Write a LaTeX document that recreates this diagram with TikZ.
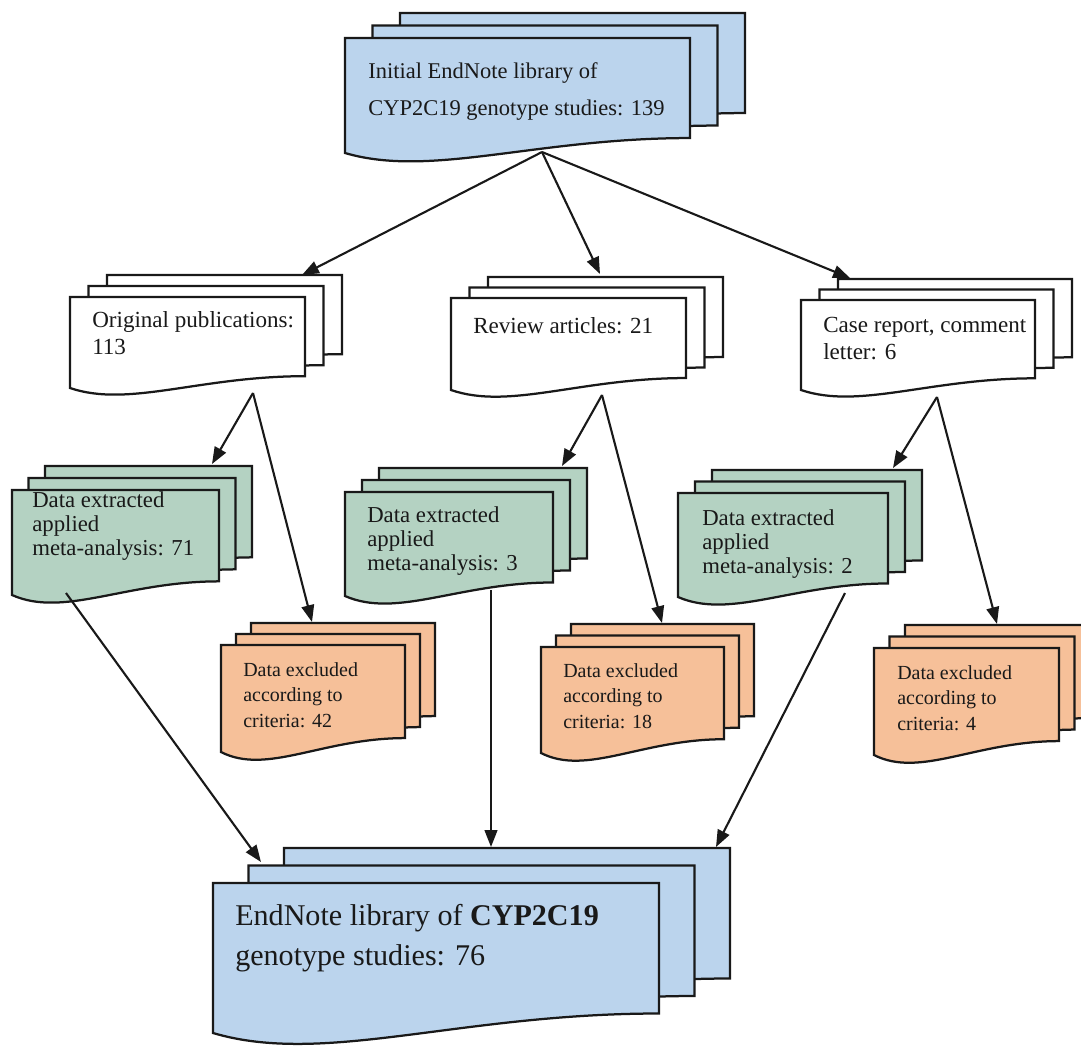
\documentclass[tikz,border=0pt]{standalone}
\usepackage{fontspec}
\setmainfont{Liberation Serif}
\usetikzlibrary{arrows.meta}
\definecolor{libblue}{RGB}{187,212,237}
\definecolor{extgreen}{RGB}{180,210,194}
\definecolor{exclorange}{RGB}{246,192,153}
\definecolor{edge}{RGB}{25,25,25}
\tikzset{
    page/.style={draw=edge, line width=1.6pt, line join=miter},
    lbl/.style={anchor=base west, inner sep=0pt, align=left, text=edge},
    topfont/.style={font=\fontsize{16}{26}\selectfont},
    pubfont/.style={font=\fontsize{16.4}{18.5}\selectfont},
    extfont/.style={font=\fontsize{16.2}{17}\selectfont},
    exclfont/.style={font=\fontsize{14.2}{18}\selectfont},
    finalfont/.style={font=\fontsize{21.4}{28}\selectfont},
    flow/.style={-{Triangle[length=12pt, width=9pt]}, line width=1.5pt, draw=edge} }
% one page: left, top, width, height, fill
\newcommand{\docpage}[5]{%
    \path[page, fill=#5] (#1,#2) -- (#1+#3,#2) -- (#1+#3,#2+0.87*#4)
        .. controls (#1+0.55*#3,#2+0.87*#4) and (#1+0.25*#3,#2+1.22*#4) .. (#1,#2+#4) -- cycle;}
% three pages: left, top, width, height, shift right, shift up, fill
\newcommand{\docstack}[7]{%
    \foreach \k in {2,1,0}{\docpage{#1+\k*#5}{#2-\k*#6}{#3}{#4}{#7}}}

\begin{document}
\begin{tikzpicture}[x=0.025cm, y=-0.025cm]
    \useasboundingbox (0,0) rectangle (1081,1048);
    % ---- pages
    \docstack{345}{38}{345}{115}{27.5}{12.5}{libblue}
    \docstack{70}{297}{235}{91}{18.5}{11}{white}
    \docstack{451}{298}{235}{92}{18.5}{10.5}{white}
    \docstack{801}{300}{234}{90}{18.5}{10.5}{white}
    \docstack{12}{490}{207}{105}{16.5}{12}{extgreen}
    \docstack{345}{492}{208}{104}{17}{12}{extgreen}
    \docstack{678}{493}{210}{104}{17}{11.5}{extgreen}
    \docstack{221}{645}{184}{107}{15}{11}{exclorange}
    \docstack{541}{647}{183}{106}{15}{11.5}{exclorange}
    \docstack{874}{648}{185}{107}{15.5}{11.5}{exclorange}
    \docstack{213}{883}{446}{150}{35.5}{17.5}{libblue}
    % ---- texts (placed at the baseline of their last line)
    \node[lbl, topfont] (initial) at (368,115) {Initial EndNote library of\\CYP2C19 genotype studies: 139};
    \node[lbl, pubfont] (orig) at (92,354) {Original publications:\\113};
    \node[lbl, pubfont] (review) at (473,333) {Review articles: 21};
    \node[lbl, pubfont] (case) at (823,359) {Case report, comment\\letter: 6};
    \node[lbl, extfont] (ext1) at (32,555) {Data extracted\\applied\\meta-analysis: 71};
    \node[lbl, extfont] (ext2) at (367,570) {Data extracted\\applied\\meta-analysis: 3};
    \node[lbl, extfont] (ext3) at (702,573) {Data extracted\\applied\\meta-analysis: 2};
    \node[lbl, exclfont] (excl1) at (243,727) {Data excluded\\according to\\criteria: 42};
    \node[lbl, exclfont] (excl2) at (563,728) {Data excluded\\according to\\criteria: 18};
    \node[lbl, exclfont] (excl3) at (897,730) {Data excluded\\according to\\criteria: 4};
    \node[lbl, finalfont] (final) at (235,965) {EndNote library of \textbf{CYP2C19}\\genotype studies: 76};
    % ---- arrow ends
    \coordinate (initial-out) at (542,152);
    \coordinate (orig-out) at (253,393);
    \coordinate (review-out) at (602,395);
    \coordinate (case-out) at (937,397);
    \coordinate (ext1-out) at (66,593);
    \coordinate (ext2-out) at (491,590);
    \coordinate (ext3-out) at (845,593);
    \coordinate (orig-in) at (302,275);
    \coordinate (review-in) at (600,274);
    \coordinate (case-in) at (850,278);
    \coordinate (ext1-in) at (212,464);
    \coordinate (ext2-in) at (562,466);
    \coordinate (ext3-in) at (893,468);
    \coordinate (excl1-in) at (312,622);
    \coordinate (excl2-in) at (662,623);
    \coordinate (excl3-in) at (997,624);
    \coordinate (final-in1) at (261,862);
    \coordinate (final-in2) at (491,847);
    \coordinate (final-in3) at (716,847);
    % ---- arrows
    \draw[flow] (initial-out) -- (orig-in);
    \draw[flow] (initial-out) -- (review-in);
    \draw[flow] (initial-out) -- (case-in);

    \draw[flow] (orig-out) -- (ext1-in);
    \draw[flow] (orig-out) -- (excl1-in);
    \draw[flow] (review-out) -- (ext2-in);
    \draw[flow] (review-out) -- (excl2-in);
    \draw[flow] (case-out) -- (ext3-in);
    \draw[flow] (case-out) -- (excl3-in);

    \draw[flow] (ext1-out) -- (final-in1);
    \draw[flow] (ext2-out) -- (final-in2);
    \draw[flow] (ext3-out) -- (final-in3);
\end{tikzpicture}
\end{document}
